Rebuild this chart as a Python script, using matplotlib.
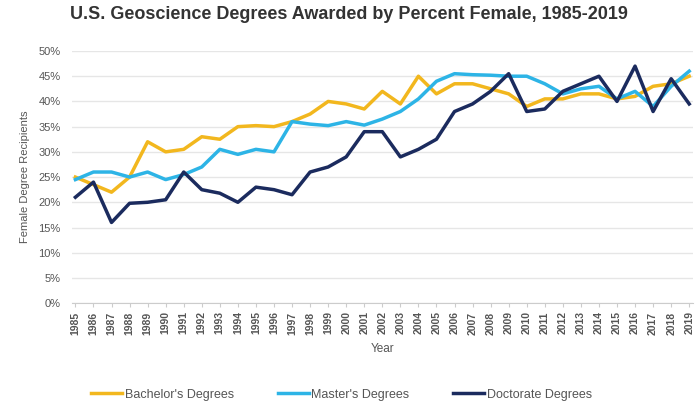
import matplotlib
matplotlib.use("Agg")
import matplotlib.pyplot as plt
from matplotlib.ticker import PercentFormatter

plt.rcParams['font.family'] = ['Liberation Sans Narrow', 'Liberation Sans', 'DejaVu Sans']

# Data (percent female)
years = list(range(1985, 2020))
bachelors = [25, 23.5, 22, 25, 32, 30, 30.5, 33, 32.5, 35, 35.2, 35, 36, 37.5, 40,
             39.5, 38.5, 42, 39.5, 45, 41.5, 43.5, 43.5, 42.5, 41.5, 39, 40.5, 40.5,
             41.5, 41.5, 40.5, 41, 43, 43.5, 45]
masters = [24.5, 26, 26, 25, 26, 24.5, 25.5, 27, 30.5, 29.5, 30.5, 30, 36, 35.5, 35.2,
           36, 35.3, 36.5, 38, 40.5, 44, 45.5, 45.3, 45.2, 45, 45, 43.5, 41.5, 42.5,
           43, 40.5, 42, 39, 43, 46]
doctorate = [21, 24, 16, 19.8, 20, 20.5, 26, 22.5, 21.8, 20, 23, 22.5, 21.5, 26, 27,
             29, 34, 34, 29, 30.5, 32.5, 38, 39.5, 42, 45.5, 38, 38.5, 42, 43.5, 45,
             40, 47, 38, 44.5, 39.5]

series = [
    ("Bachelor's Degrees", bachelors, '#F2B71E'),
    ("Master's Degrees", masters, '#2DB4E6'),
    ("Doctorate Degrees", doctorate, '#1B2B5E'),
]

fig = plt.figure(figsize=(6.97, 4.08), dpi=100)
ax = fig.add_axes([0.103, 0.257, 0.891, 0.618])

for label, vals, color in series:
    ax.plot(years, vals, color=color, linewidth=2.5, label=label)

ax.set_xlim(1984.8, 2019.2)
ax.set_ylim(0, 50)
ax.set_yticks(range(0, 55, 5))
ax.yaxis.set_major_formatter(PercentFormatter(decimals=0))
ax.set_xticks(years)
ax.set_xticklabels([str(y) for y in years], rotation=90, fontsize=7.5,
                   color='#555555', fontweight='bold')
ax.tick_params(axis='y', labelsize=8, colors='#555555', length=0, pad=8)
ax.tick_params(axis='x', length=3, color='#cccccc', pad=3)
ax.grid(axis='y', color='#e6e6e6', linewidth=1)
ax.set_axisbelow(True)
for s in ['top', 'right', 'left']:
    ax.spines[s].set_visible(False)
ax.spines['bottom'].set_color('#cccccc')

ax.set_ylabel('Female Degree Recipients', fontsize=8, color='#555555', labelpad=6)
ax.set_xlabel('Year', fontsize=8.5, color='#555555', labelpad=6)

fig.suptitle('U.S. Geoscience Degrees Awarded by Percent Female, 1985-2019',
             x=0.5, y=0.985, fontsize=13, color='#333333', fontweight='semibold')

fig.legend(loc='lower center', bbox_to_anchor=(0.49, -0.01), ncol=3, frameon=False,
           fontsize=9, handlelength=2.5, handletextpad=0.2, columnspacing=3.5,
           labelcolor='#555555')

fig.savefig('out.png', dpi=100)
